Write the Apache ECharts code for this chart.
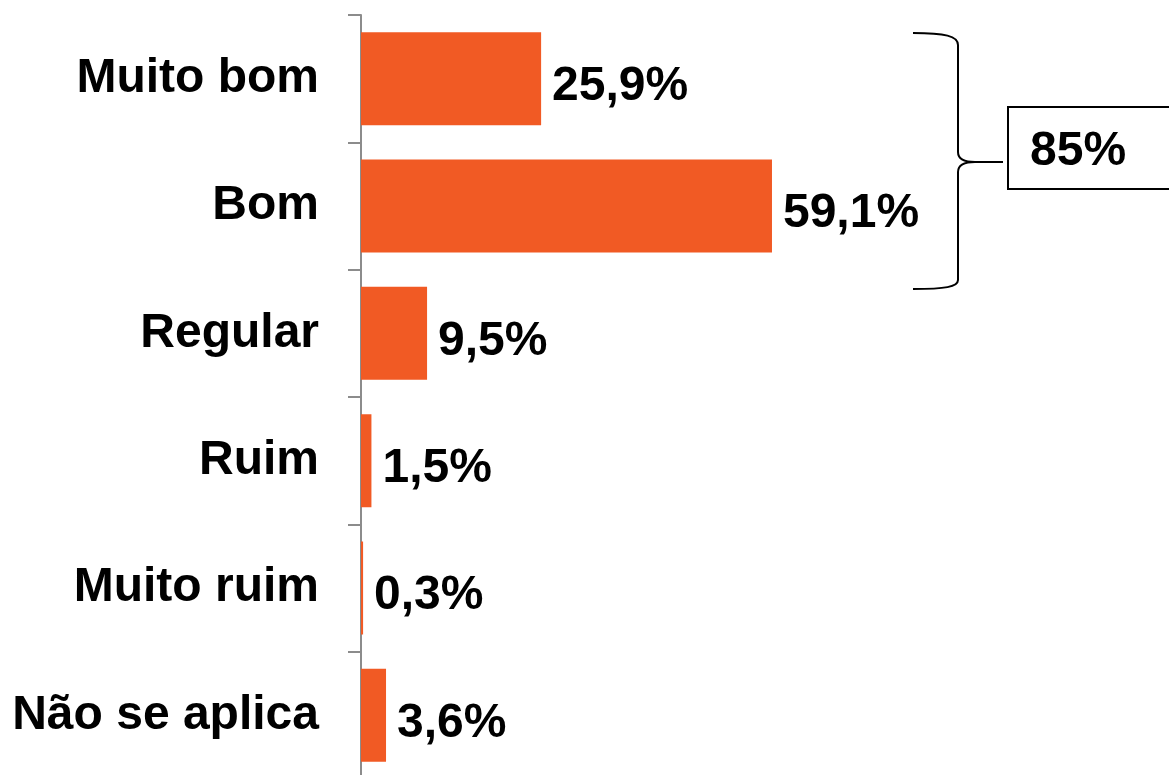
<!DOCTYPE html>
<html>
<head>
<meta charset="utf-8">
<script src="https://cdn.jsdelivr.net/npm/echarts@6/dist/echarts.min.js"></script>
<style>
  html, body { margin: 0; padding: 0; background: #fff; }
</style>
</head>
<body>
<div id="chart" style="width: 1169px; height: 775px"></div>
<script>
// categorias (de cima para baixo)
const categorias = ["Muito bom", "Bom", "Regular", "Ruim", "Muito ruim", "Não se aplica"];
// percentuais
const valores = [25.9, 59.1, 9.5, 1.5, 0.3, 3.6];
// total bom + muito bom
const totalPositivo = "85%";

const fonte = "'Liberation Sans', Arial";
const traco = { stroke: "#000", lineWidth: 2, fill: null };

// chave "}" feita de curvas e linhas
const curva = (x1, y1, cx1, cy1, cx2, cy2, x2, y2) => ({
  type: "bezierCurve",
  shape: { x1, y1, cpx1: cx1, cpy1: cy1, cpx2: cx2, cpy2: cy2, x2, y2 },
  style: traco,
});
const linha = (x1, y1, x2, y2) => ({
  type: "line",
  shape: { x1, y1, x2, y2 },
  style: traco,
});

const myChart = echarts.init(document.getElementById("chart"));
const option = {
  animation: false,
  grid: { left: 361, top: 15, width: 695.4, height: 764, outerBoundsMode: "none" },
  xAxis: {
    type: "value",
    min: 0,
    max: 100,
    show: false,
  },
  yAxis: {
    type: "category",
    data: categorias,
    inverse: true,
    axisLine: { show: true, lineStyle: { color: "#8c8c8c", width: 2 } },
    axisTick: { show: true, length: 13, lineStyle: { color: "#8c8c8c", width: 2 } },
    axisLabel: {
      margin: 42,
      color: "#000",
      fontSize: 48,
      fontWeight: "bold",
      fontFamily: fonte,
    },
  },
  series: [
    {
      type: "bar",
      data: valores,
      barWidth: 93,
      itemStyle: { color: "#F15A24" },
      label: {
        show: true,
        position: "right",
        distance: 11,
        offset: [0, 8],
        color: "#000",
        fontSize: 48,
        fontWeight: "bold",
        fontFamily: fonte,
        formatter: (p) => p.value.toFixed(1).replace(".", ",") + "%",
      },
    },
  ],
  graphic: [
    curva(913, 33, 945, 33, 958, 36, 958, 45),
    linha(958, 45, 958, 152),
    curva(958, 152, 958, 158, 962, 162, 975, 162),
    linha(975, 162, 1003, 162),
    curva(975, 162, 962, 162, 958, 166, 958, 172),
    linha(958, 172, 958, 280),
    curva(958, 280, 958, 287, 945, 289, 913, 289),
    {
      type: "rect",
      shape: { x: 1008, y: 107, width: 170, height: 82 },
      style: { fill: "#fff", stroke: "#000", lineWidth: 2 },
    },
    {
      type: "text",
      x: 1030,
      y: 152,
      style: {
        text: totalPositivo,
        fill: "#000",
        font: "bold 48px " + fonte,
        verticalAlign: "middle",
      },
    },
  ],
};
myChart.setOption(option);
</script>
</body>
</html>
